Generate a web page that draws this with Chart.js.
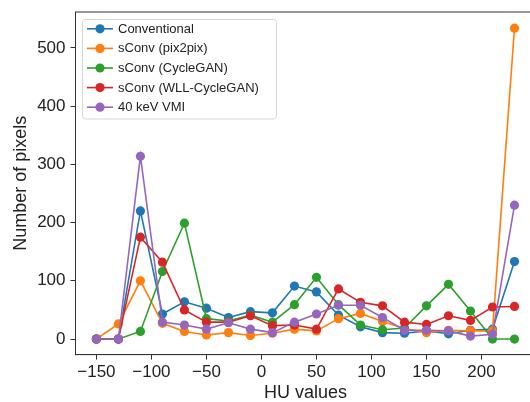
<!DOCTYPE html>
<html lang="en">
<head>
<meta charset="UTF-8">
<title>HU histogram</title>
<script src="https://cdn.jsdelivr.net/npm/chart.js@4.4.1/dist/chart.umd.min.js"></script>
<style>
  html, body { margin: 0; padding: 0; background: #fff; overflow: hidden; }
  .wrap { width: 540px; height: 402px; position: relative; }
</style>
</head>
<body>
<div class="wrap"><canvas id="chart"></canvas></div>
<script>
// bin centres (HU)
const huValues = [-150, -130, -110, -90, -70, -50, -30, -10, 10, 30, 50, 70, 90, 110, 130, 150, 170, 190, 210, 230];

const conventional = [0, 0, 220, 43, 64, 53, 37, 47, 45, 91, 81, 41, 21, 11, 10, 14, 9, 15, 17, 133];
const pix2pix      = [0, 26, 100, 27, 13, 7, 11, 6, 10, 17, 14, 35, 44, 30, 18, 11, 15, 14, 14, 534];
const cycleGan     = [0, 0, 13, 116, 199, 35, 31, 41, 29, 59, 106, 59, 24, 16, 19, 57, 94, 48, 0, 0];
const wllCycleGan  = [0, 0, 175, 132, 50, 29, 29, 40, 23, 24, 17, 86, 63, 57, 29, 25, 40, 32, 55, 56];
const vmi40        = [0, 0, 314, 29, 24, 17, 28, 17, 11, 29, 43, 58, 58, 37, 15, 15, 14, 5, 8, 230];

const seriesNames = ["Conventional", "sConv (pix2pix)", "sConv (CycleGAN)", "sConv (WLL-CycleGAN)", "40 keV VMI"];
const seriesData = [conventional, pix2pix, cycleGan, wllCycleGan, vmi40];
const colors = ["#1f77b4", "#ff7f0e", "#2ca02c", "#d62728", "#9467bd"];

const datasets = seriesData.map((vals, i) => ({
  label: seriesNames[i],
  data: vals.map((v, k) => ({ x: huValues[k], y: v })),
  borderColor: colors[i],
  backgroundColor: colors[i],
  borderWidth: 1.6,
  pointRadius: 4.6,
  pointBorderWidth: 0,
  pointHoverRadius: 4.6,
  order: 4 - i,
  tension: 0
}));

const minus = v => (v < 0 ? "\u2212" + Math.abs(v) : String(v));

// matplotlib style frame and in-axes legend
const mplPlugin = {
  id: "mpl",
  beforeDatasetsDraw(chart) {
    const { ctx, chartArea: a } = chart;
    ctx.save();
    ctx.strokeStyle = "#333";
    ctx.lineWidth = 1;
    ctx.strokeRect(a.left, a.top, a.right - a.left, a.bottom - a.top);
    ctx.restore();
  },
  afterDatasetsDraw(chart) {
    const { ctx } = chart;
    const bx = 82.5, by = 19.5, bw = 194, bh = 99.5;
    ctx.save();
    ctx.beginPath();
    ctx.roundRect(bx, by, bw, bh, 3);
    ctx.fillStyle = "rgba(255,255,255,0.8)";
    ctx.fill();
    ctx.strokeStyle = "#d6d6d6";
    ctx.lineWidth = 1;
    ctx.stroke();
    ctx.font = "13px 'Liberation Sans', Arial, sans-serif";
    ctx.textBaseline = "middle";
    seriesNames.forEach((name, i) => {
      const y = 28.8 + i * 19.6;
      ctx.strokeStyle = colors[i];
      ctx.lineWidth = 1.6;
      ctx.beginPath();
      ctx.moveTo(87, y);
      ctx.lineTo(113, y);
      ctx.stroke();
      ctx.fillStyle = colors[i];
      ctx.beginPath();
      ctx.arc(100, y, 4.6, 0, Math.PI * 2);
      ctx.fill();
      ctx.fillStyle = "#222";
      ctx.fillText(name, 118, y + 0.5);
    });
    ctx.restore();
  }
};

new Chart(document.getElementById("chart"), {
  type: "line",
  data: { datasets },
  options: {
    responsive: true,
    maintainAspectRatio: false,
    animation: false,
    layout: { padding: { left: 0, top: 12, right: 4.5, bottom: 0 } },
    plugins: { legend: { display: false }, tooltip: { enabled: false } },
    scales: {
      x: {
        type: "linear",
        min: -169, max: 249,
        grid: { display: true, drawOnChartArea: false, drawTicks: true, tickLength: 5, color: "#333" },
        border: { display: true, color: "#333" },
        ticks: { stepSize: 50, includeBounds: false, padding: 3, color: "#222",
                 font: { family: "'Liberation Sans', Arial, sans-serif", size: 17 }, callback: minus },
        title: { display: true, text: "HU values", color: "#222", padding: { top: 0, bottom: 0 },
                 font: { family: "'Liberation Sans', Arial, sans-serif", size: 18, lineHeight: 1 } },
        afterFit(scale) { scale.height = 47.4; scale.paddingLeft = 0; scale.paddingRight = 0; }
      },
      y: {
        min: -26.75, max: 561.75,
        grid: { display: true, drawOnChartArea: false, drawTicks: true, tickLength: 5, color: "#333" },
        border: { display: true, color: "#333" },
        ticks: { stepSize: 100, includeBounds: false, padding: 5, color: "#222",
                 font: { family: "'Liberation Sans', Arial, sans-serif", size: 17 } },
        title: { display: true, text: "Number of pixels", color: "#222", padding: { top: 12, bottom: 0 },
                 font: { family: "'Liberation Sans', Arial, sans-serif", size: 18, lineHeight: 1 } },
        afterFit(scale) { scale.width = 75.5; scale.paddingTop = 0; scale.paddingBottom = 0; }
      }
    }
  },
  plugins: [mplPlugin]
});
</script>
</body>
</html>
